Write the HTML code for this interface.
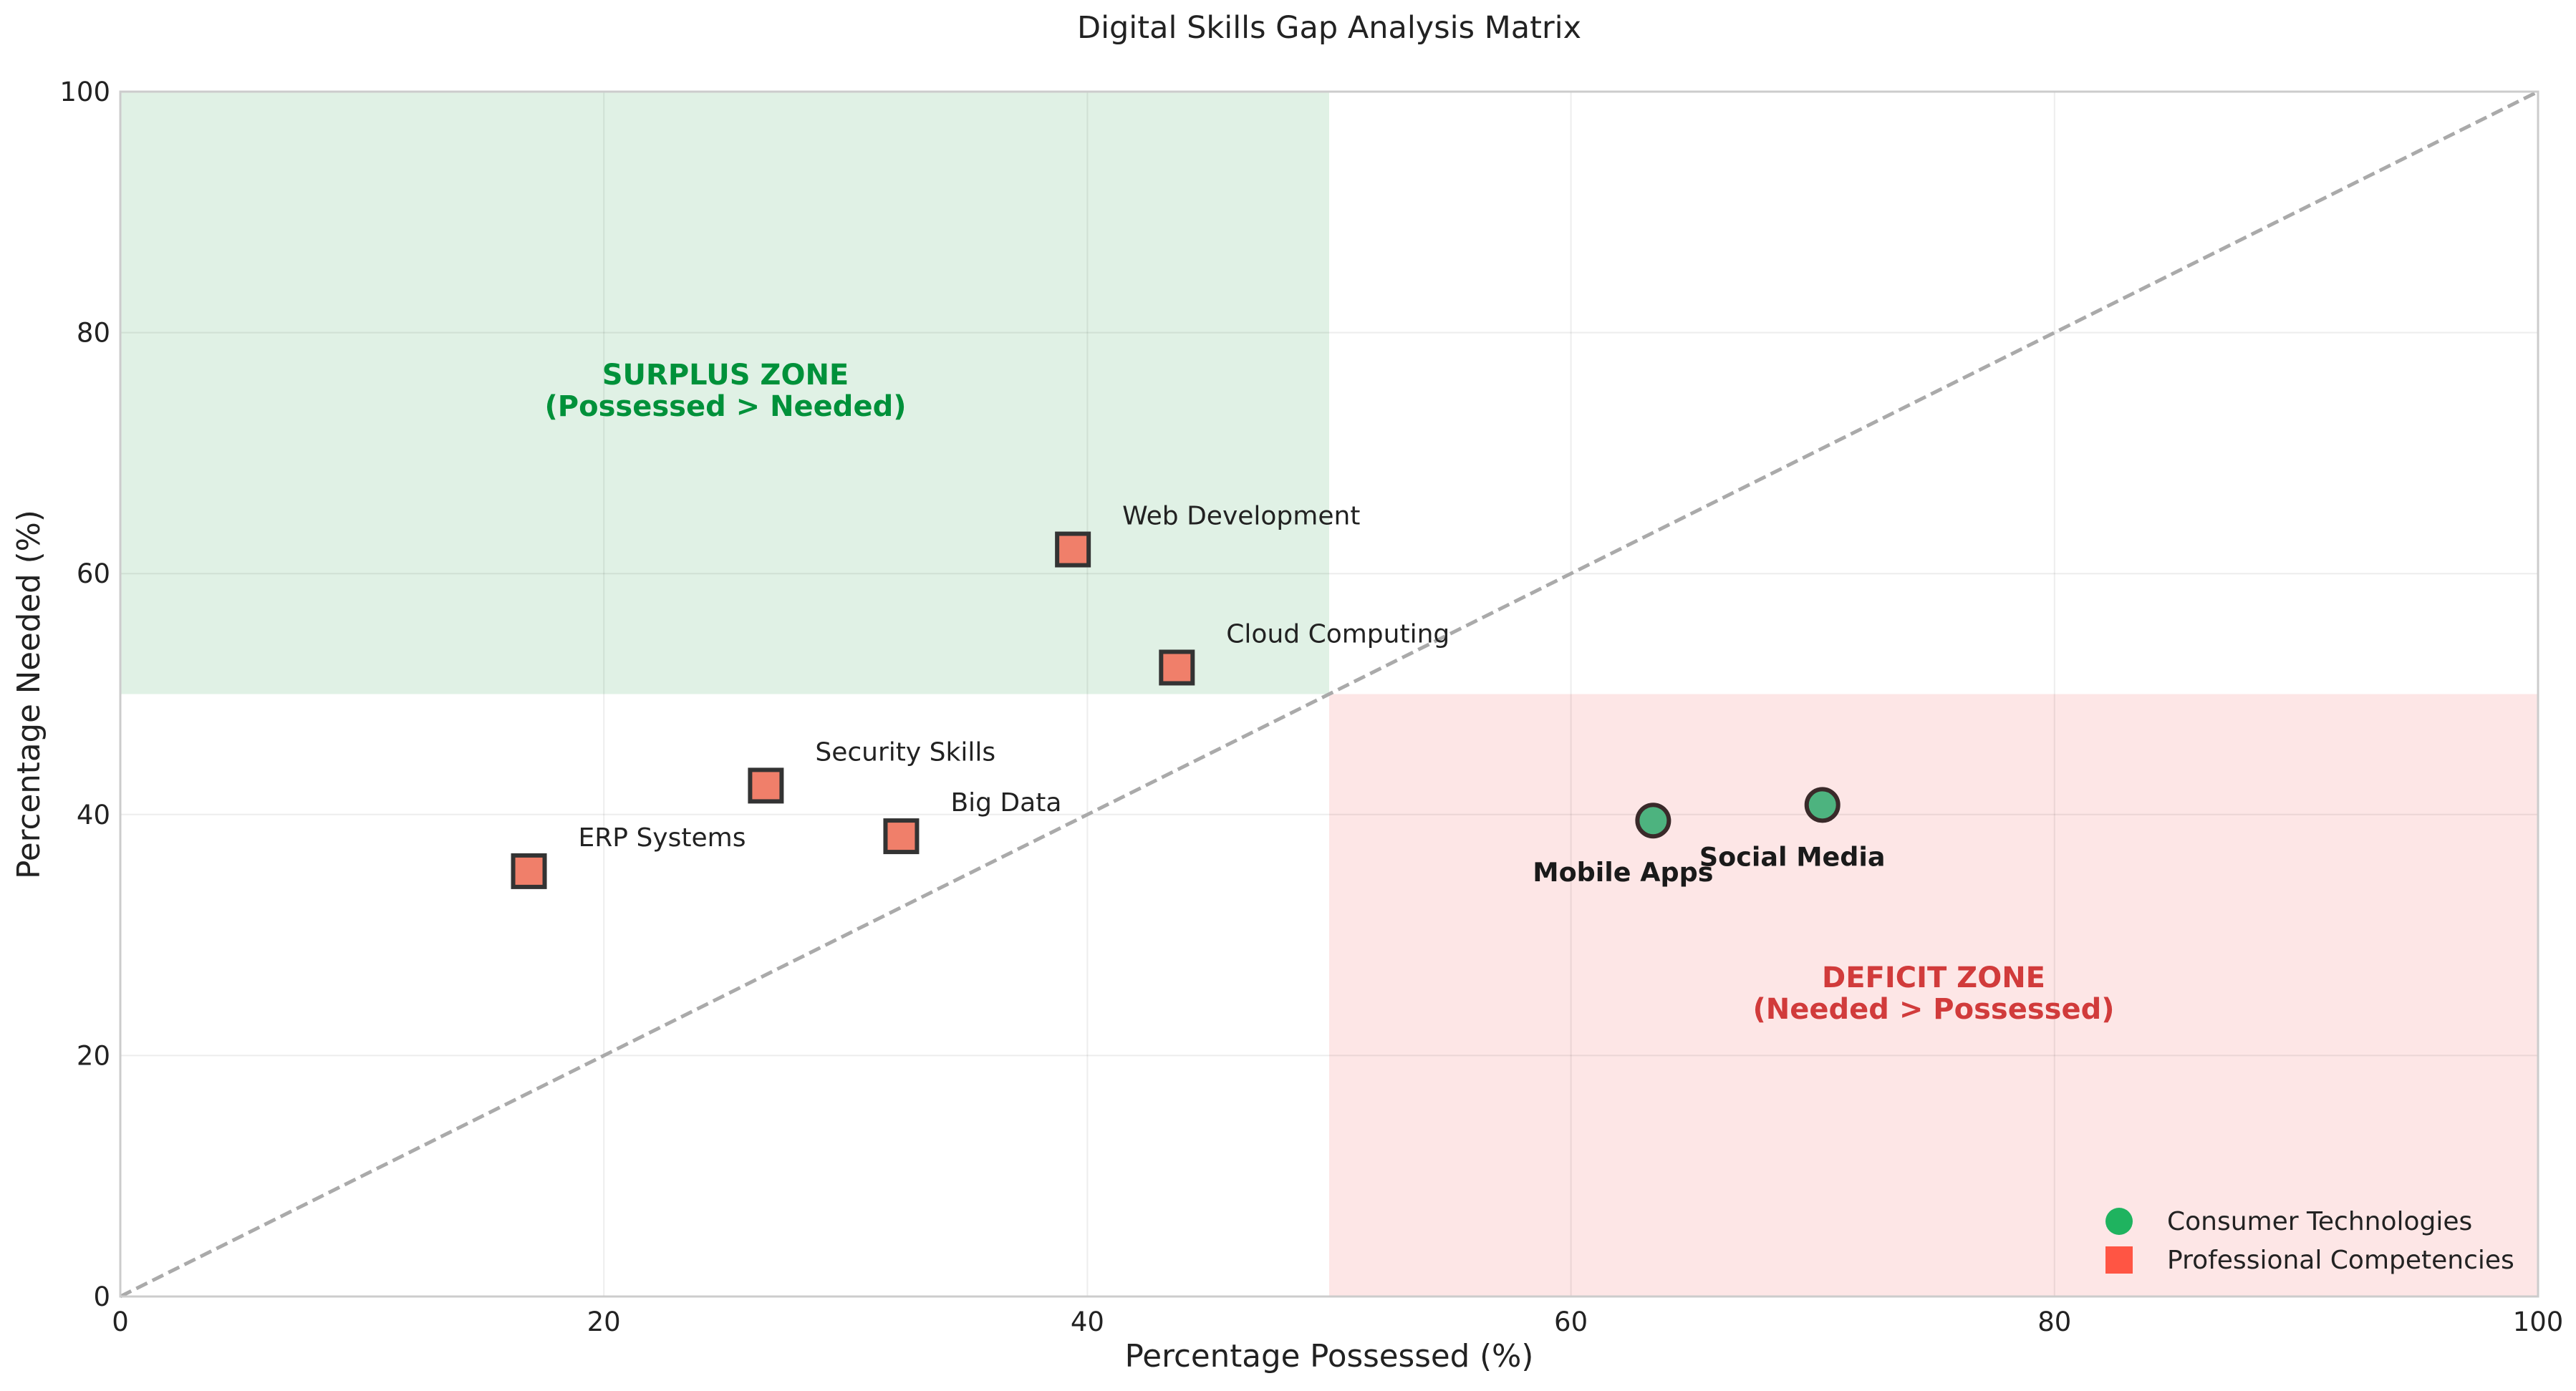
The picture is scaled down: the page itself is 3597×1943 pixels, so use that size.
<!DOCTYPE html>
<html><head><meta charset="utf-8"><style>
html,body{margin:0;padding:0;background:#fff;}
svg{display:block;font-family:"DejaVu Sans","Liberation Sans",sans-serif;}
</style></head><body>
<svg id="chart" width="3597" height="1943" viewBox="0 0 3597 1943" xmlns="http://www.w3.org/2000/svg">
<text x="1856" y="53" font-size="43" text-anchor="middle" fill="#222">Digital Skills Gap Analysis Matrix</text>
<g id="plot"></g>
<text x="1856" y="1909" font-size="43.5" text-anchor="middle" fill="#222">Percentage Possessed (%)</text>
<text x="0" y="0" font-size="43.5" text-anchor="middle" fill="#222" transform="translate(55,970) rotate(-90)">Percentage Needed (%)</text>
<g>
<circle cx="2959" cy="1706" r="19" fill="#1fb35f"/>
<text x="3026" y="1718" font-size="36" fill="#222">Consumer Technologies</text>
<rect x="2940" y="1741" width="38" height="38" fill="#ff5544"/>
<text x="3026" y="1772" font-size="36" fill="#222">Professional Competencies</text>
</g>
</svg>
<script>
const xTicks = [0, 20, 40, 60, 80, 100];
const yTicks = [0, 20, 40, 60, 80, 100];
const skillNames = ["Web Development", "Cloud Computing", "Security Skills", "Big Data", "ERP Systems", "Mobile Apps", "Social Media"];
const possessed = [39.4, 43.7, 26.7, 32.3, 16.9, 63.4, 70.4];
const needed = [62.0, 52.2, 42.4, 38.2, 35.3, 39.5, 40.8];
const category = ["pro", "pro", "pro", "pro", "pro", "consumer", "consumer"];

const L = 168, R = 3544, T = 128, B = 1811;
const sx = v => L + (v / 100) * (R - L);
const sy = v => B - (v / 100) * (B - T);
const NS = "http://www.w3.org/2000/svg";
const g = document.getElementById('plot');
function mk(tag, attrs, parent) {
  const e = document.createElementNS(NS, tag);
  for (const k in attrs) e.setAttribute(k, attrs[k]);
  (parent || g).appendChild(e);
  return e;
}
let z = mk('rect', {x: sx(0), y: sy(100), width: sx(50) - sx(0), height: sy(50) - sy(100), fill: '#e0f1e5'});


z = mk('rect', {x: sx(50), y: sy(50), width: sx(100) - sx(50), height: sy(0) - sy(50), fill: '#fde6e6'});


xTicks.forEach(t => {
  const l = mk('line', {x1: sx(t), x2: sx(t), y1: T, y2: B, stroke: 'rgba(0,0,0,0.07)', 'stroke-width': 2});
  
  
  const tx = mk('text', {x: sx(t), y: B + 48, 'font-size': 37, 'text-anchor': 'middle', fill: '#222'});
  tx.textContent = t;
  
  
});
yTicks.forEach(t => {
  const l = mk('line', {x1: L, x2: R, y1: sy(t), y2: sy(t), stroke: 'rgba(0,0,0,0.07)', 'stroke-width': 2});
  
  
  const tx = mk('text', {x: L - 14, y: sy(t) + 13, 'font-size': 37, 'text-anchor': 'end', fill: '#222'});
  tx.textContent = t;
  
  
});
const d = mk('line', {x1: sx(0), y1: sy(0), x2: sx(100), y2: sy(100), stroke: '#aaaaaa', 'stroke-width': 5, 'stroke-dasharray': '17 8'});


const f = mk('rect', {x: L, y: T, width: R - L, height: B - T, fill: 'none', stroke: '#cccccc', 'stroke-width': 3});


function zoneText(lines, cx, y0, color, name) {
  lines.forEach((s, i) => {
    const t = mk('text', {x: cx, y: y0 + i * 44, 'font-size': 40, 'font-weight': 'bold', 'text-anchor': 'middle', fill: color});
    t.textContent = s;
    
    
  });
}
zoneText(["SURPLUS ZONE", "(Possessed > Needed)"], 1013, 537, '#00913a', 'surplus-zone-label');
zoneText(["DEFICIT ZONE", "(Needed > Possessed)"], 2700, 1379, '#d13b3b', 'deficit-zone-label');
skillNames.forEach((n, i) => {
  const x = sx(possessed[i]), y = sy(needed[i]);
  let m, lab;
  if (category[i] === 'pro') {
    m = mk('rect', {x: x - 22, y: y - 22, width: 44, height: 44, fill: '#f07f6a', stroke: '#333', 'stroke-width': 6});
    lab = mk('text', {x: x + 69, y: y - 35, 'font-size': 36, fill: '#222'});
  } else {
    m = mk('circle', {cx: x, cy: y, r: 22, fill: '#4db37f', stroke: '#3a2a2a', 'stroke-width': 6});
    lab = mk('text', {x: x - 42, y: y + 85, 'font-size': 36.5, 'font-weight': 'bold', 'text-anchor': 'middle', fill: '#1a1a1a'});
  }
  
  
  lab.textContent = n;
  
  
});
</script>
</body></html>
